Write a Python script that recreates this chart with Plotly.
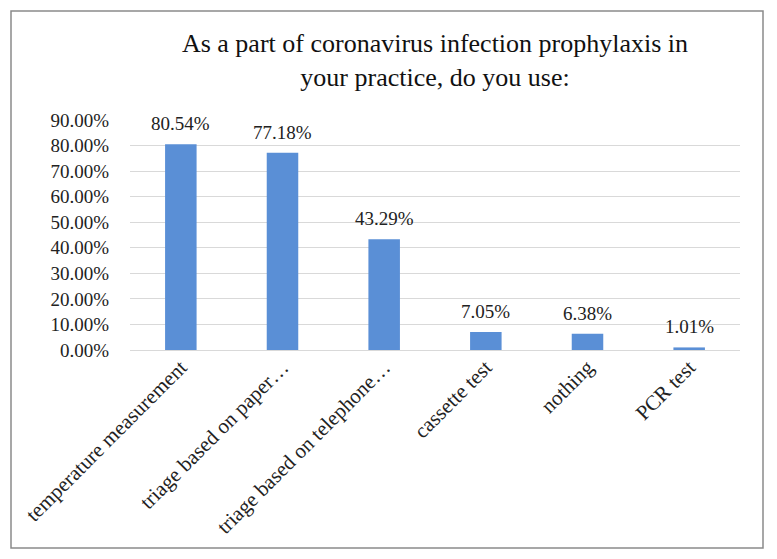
import plotly.graph_objects as go

categories = ["temperature measurement", "triage based on paper…",
              "triage based on telephone…", "cassette test", "nothing", "PCR test"]
shares = [80.54, 77.18, 43.29, 7.05, 6.38, 1.01]
y_ticks = [0, 10, 20, 30, 40, 50, 60, 70, 80, 90]

W, H = 777, 559
L, R, T, B = 130, 37, 120, 209
pw, ph = W - L - R, H - T - B

serif = "Liberation Serif, Times New Roman, serif"

fig = go.Figure(go.Bar(
    x=categories, y=shares,
    marker=dict(color="#5a8fd6", line=dict(width=0)),
    width=0.31,
    cliponaxis=False,
))

# value labels above the bars
for cat, v in zip(categories, shares):
    fig.add_annotation(x=cat, y=v, text=f"{v:.2f}%", showarrow=False,
                       yanchor="bottom", yshift=8,
                       font=dict(family=serif, size=19, color="#222"))

# outer chart frame (pixel box converted to paper units)
fig.add_shape(type="rect", xref="paper", yref="paper",
              x0=(11 - L) / pw, x1=(763 - L) / pw,
              y0=(H - B - 548) / ph, y1=(H - B - 11) / ph,
              line=dict(color="#8a8a8a", width=1.5), layer="below")

fig.update_layout(
    width=W, height=H,
    margin=dict(l=L, r=R, t=T, b=B, autoexpand=False),
    paper_bgcolor="white", plot_bgcolor="white",
    showlegend=False,
    title=dict(text="As a part of coronavirus infection prophylaxis in<br>your practice, do you use:",
               x=0.5, xref="paper", xanchor="center", y=1 - 52 / H, yanchor="middle",
               font=dict(family=serif, size=26, color="#111")),
    font=dict(family=serif, size=19, color="#222"),
)
fig.update_xaxes(tickangle=-45, showgrid=False, showline=False, ticks="",
                 automargin=False,
                 tickfont=dict(family=serif, size=21, color="#222"))
fig.update_yaxes(range=[0, 90], tickvals=y_ticks,
                 ticktext=[f"{v:.2f}%" for v in y_ticks],
                 showgrid=True, gridcolor="#d9d9d9", gridwidth=1.2,
                 zeroline=True, zerolinecolor="#d9d9d9", zerolinewidth=1.2,
                 ticks="", ticklabelstandoff=20, automargin=False,
                 tickfont=dict(family=serif, size=19, color="#222"))

fig.write_html("out.html", config={"displayModeBar": False},
               post_script="document.body.style.margin='0';")
